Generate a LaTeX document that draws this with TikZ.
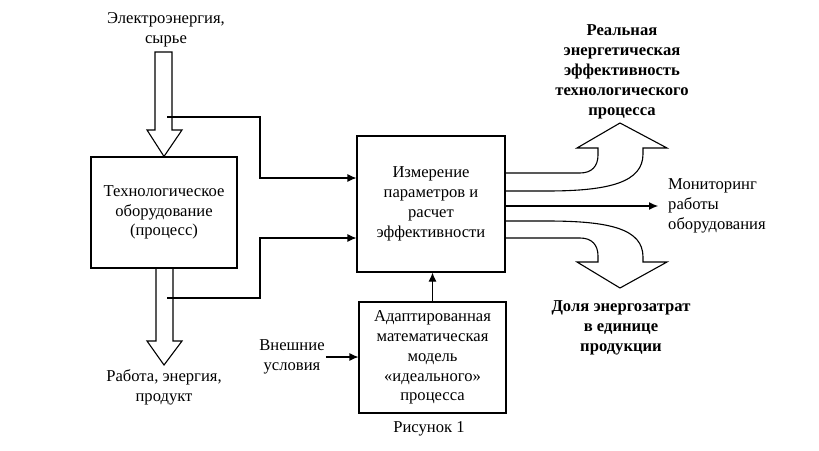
\documentclass[tikz,border=0pt]{standalone}
\usepackage{fontspec}
\setmainfont{Liberation Serif}
\usetikzlibrary{arrows.meta}
\begin{document}
\begin{tikzpicture}[x=1pt,y=-1pt,
  lw/.style={line width=1.1pt},
  box/.style={draw, lw, align=center, inner sep=0pt, font={\fontsize{16.6}{19.8}\selectfont}},
  txt/.style={align=center, inner sep=1pt, font={\fontsize{16.6}{19.8}\selectfont}},
  btxt/.style={align=center, inner sep=1pt, font={\bfseries\fontsize{16.6}{20}\selectfont}},
  arr/.style={lw, -{Latex[length=9pt,width=8pt]}},
  band/.style={lw, line join=miter}]
\useasboundingbox[fill=white] (0,0) rectangle (819,450);

% boxes
\node[box, minimum width=146pt, minimum height=111pt] (equip) at (164,212.5) {Технологическое\\оборудование\\(процесс)};
\node[box, minimum width=148pt, minimum height=136pt] (meas) at (431,204) {Измерение\\параметров и\\расчет\\эффективности};
\node[box, minimum width=147pt, minimum height=111pt] (model) at (432.5,357.5) {Адаптированная\\математическая\\модель\\«идеального»\\процесса};

% texts
\node[txt] (inp) at (166,30) {Электроэнергия,\\сырье};
\node[txt] (outp) at (164,387.5) {Работа, энергия,\\продукт};
\node[txt] (ext) at (292,357) {Внешние\\условия};
\node[txt, align=left, anchor=west] (mon) at (667,206) {Мониторинг\\работы\\оборудования};
\node[btxt] (real) at (622,72) {Реальная\\энергетическая\\эффективность\\технологического\\процесса};
\node[btxt] (share) at (621,328) {Доля энергозатрат\\в единице\\продукции};
\node[txt] (fig) at (429,429) {Рисунок 1};

% block arrows in/out of equipment
\draw[lw, line join=miter] (155,52) -- (155,130) -- (147,130) -- (equip.north) -- (182,130) -- (172,130) -- (172,52) -- cycle;
\draw[lw, line join=miter] (156,268) -- (156,341) -- (147,341) -- (164,365) -- (182,341) -- (173,341) -- (173,268);

% feeds to measurement
\coordinate (in1) at (167,117);
\coordinate (j1) at (260,178);
\draw[arr] (in1) -| (j1) -- (j1 -| meas.west);
\coordinate (in2) at (167,298);
\coordinate (j2) at (260,238);
\draw[arr] (in2) -| (j2) -- (j2 -| meas.west);

% model -> measurement, external -> model
\draw[arr] (model.north) -- (meas.south -| model.north);
\draw[arr] (ext.east |- 0,357) -- (model.west |- 0,357);

% monitoring arrow
\coordinate (monend) at (658,206);
\draw[arr] (meas.east |- monend) -- (monend);

% upper band arrow
\draw[band] (meas.east |- 0,173) -- (580,173) .. controls (592,173) and (598,166) .. (598,155) -- (598,148) -- (577,148) -- (620,123) -- (667,148) -- (643,148) -- (643,154) .. controls (643,182) and (610,191) .. (547,191) -- (meas.east |- 0,191);
% lower band arrow
\draw[band] (meas.east |- 0,238) -- (580,238) .. controls (592,238) and (598,245) .. (598,256) -- (598,262) -- (577,262) -- (620,288) -- (667,262) -- (643,262) -- (643,257) .. controls (643,229) and (610,221) .. (547,221) -- (meas.east |- 0,221);
\end{tikzpicture}
\end{document}
